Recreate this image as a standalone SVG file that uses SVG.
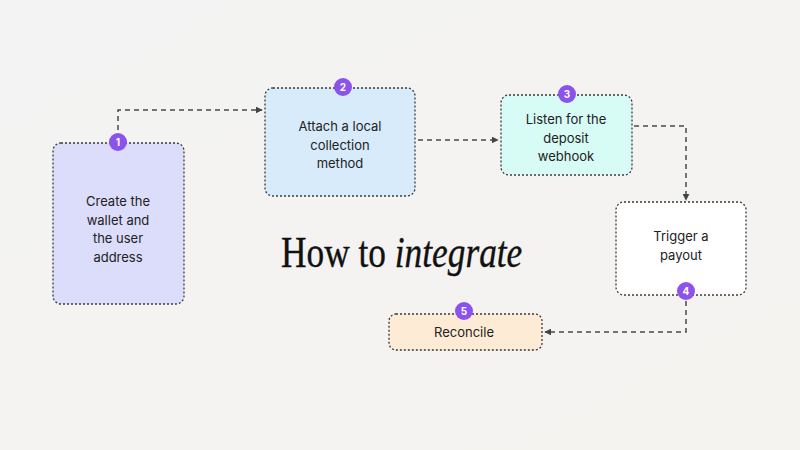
<svg xmlns="http://www.w3.org/2000/svg" width="800" height="450" viewBox="0 0 800 450">
<defs>
<linearGradient id="bg" x1="0" y1="0" x2="1" y2="1">
<stop offset="0" stop-color="#f3f3f3"/>
<stop offset="1" stop-color="#f5f3f0"/>
</linearGradient>
<marker id="arr" viewBox="0 0 10 10" refX="9" refY="5" markerWidth="7" markerHeight="7" markerUnits="userSpaceOnUse" orient="auto">
<path d="M0,0 L10,5 L0,10 z" fill="#444"/>
</marker>
</defs>
<style>
.box{stroke:#3a3a3a;stroke-width:1.3;stroke-dasharray:2 2}
.lbl{font-family:Inter,"Liberation Sans",sans-serif;font-size:13px;fill:#222;text-anchor:middle}
.badge{fill:#8b52ec}
.num{font-family:Inter,"Liberation Sans",sans-serif;font-size:10px;font-weight:bold;fill:#fff;text-anchor:middle}
.conn{fill:none;stroke:#4a4a4a;stroke-width:1.5;stroke-dasharray:5 4}
.title{font-family:"Liberation Serif","DejaVu Serif",serif;font-size:45px;fill:#111;stroke:#111;stroke-width:0.4}
</style>
<rect width="800" height="450" fill="url(#bg)"/>
<g id="connectors">
<path class="conn" d="M118,130 V110 H262" marker-end="url(#arr)"/>
<path class="conn" d="M418,140 H498" marker-end="url(#arr)"/>
<path class="conn" d="M634,126 H686 V200" marker-end="url(#arr)"/>
<path class="conn" d="M686,301 V332 H545" marker-end="url(#arr)"/>
</g>
<g id="node1">
<rect class="box" x="53" y="143" width="131" height="161" rx="8" fill="#dcdcfb"/>
<text class="lbl" x="118" y="206">Create the</text>
<text class="lbl" x="118" y="225">wallet and</text>
<text class="lbl" x="118" y="243">the user</text>
<text class="lbl" x="118" y="262">address</text>
<circle class="badge" cx="118" cy="142" r="9"/>
<text class="num" x="118" y="145.5">1</text>
</g>
<g id="node2">
<rect class="box" x="265" y="88" width="150" height="108" rx="8" fill="#d8ebfb"/>
<text class="lbl" x="340" y="131">Attach a local</text>
<text class="lbl" x="340" y="150">collection</text>
<text class="lbl" x="340" y="168">method</text>
<circle class="badge" cx="343" cy="87" r="9"/>
<text class="num" x="343" y="90.5">2</text>
</g>
<g id="node3">
<rect class="box" x="501" y="95" width="131" height="80" rx="8" fill="#d7fbf5"/>
<text class="lbl" x="566" y="124">Listen for the</text>
<text class="lbl" x="566" y="143">deposit</text>
<text class="lbl" x="566" y="161">webhook</text>
<circle class="badge" cx="567" cy="94" r="9"/>
<text class="num" x="567" y="97.5">3</text>
</g>
<g id="node4">
<rect class="box" x="616" y="202" width="130" height="93" rx="8" fill="#ffffff"/>
<text class="lbl" x="681" y="241">Trigger a</text>
<text class="lbl" x="681" y="260">payout</text>
<circle class="badge" cx="686" cy="291" r="9"/>
<text class="num" x="686" y="294.5">4</text>
</g>
<g id="node5">
<rect class="box" x="389" y="314" width="153" height="36" rx="7" fill="#fdebd5"/>
<text class="lbl" x="464" y="337">Reconcile</text>
<circle class="badge" cx="464" cy="311" r="9"/>
<text class="num" x="464" y="314.5">5</text>
</g>
<g id="title">
<text class="title" transform="translate(281,267) scale(0.785,1)" x="0" y="0">How to <tspan font-style="italic">integrate</tspan></text>
</g>
</svg>
